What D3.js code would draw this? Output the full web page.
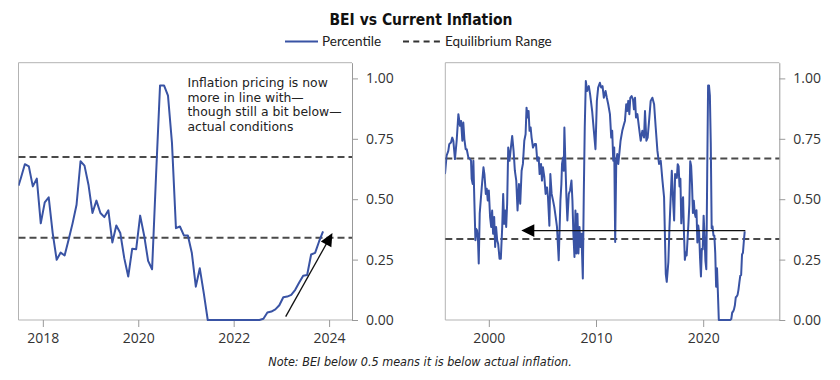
<!DOCTYPE html>
<html><head><meta charset="utf-8">
<script src="https://cdn.jsdelivr.net/npm/d3@7"></script>
<style>
body{margin:0;background:#fff;}
svg{display:block;}
</style></head><body>
<svg id="chart" width="840" height="380"></svg>
<script>
// ---------------- DATA ----------------
const titleText = "BEI vs Current Inflation";
const legendLabels = ["Percentile", "Equilibrium Range"];
const noteText = "Note: BEI below 0.5 means it is below actual inflation.";
const annotationLines = ["Inflation pricing is now", "more in line with\u2014", "though still a bit below\u2014", "actual conditions"];

// Monthly percentile, starting mid-2017 (left panel; also the tail of the right panel)
const leftStartYear = 2017.54;
const leftValues = [
  0.588,0.645,0.636,0.553,0.585,0.40,0.487,0.508,0.36,0.249,
  0.279,0.267,0.332,0.40,0.477,0.657,0.639,0.56,0.443,0.494,
  0.443,0.426,0.454,0.321,0.391,0.36,0.256,0.18,0.295,0.293,
  0.432,0.35,0.245,0.21,0.60,0.971,0.971,0.929,0.733,0.38,
  0.387,0.35,0.35,0.277,0.138,0.214,0.111,0,0,0,
  0,0,0,0,0,0,0,0,0,0,
  0,0.005,0.031,0.035,0.044,0.061,0.094,0.097,0.104,0.125,
  0.155,0.183,0.186,0.271,0.278,0.325,0.367
];
// value at the left edge of the short panel, where the line enters
const leftEdgePoint = [2017.49, 0.556];

// Longer history (right panel) before mid-2017: [year, percentile]
const rightEarlyPoints = [
  [1995.91,.604],[1996.06,.68],[1996.22,.70],[1996.31,.728],[1996.47,.735],[1996.59,.755],[1996.69,.742],[1996.84,.666],[1997.00,.742],[1997.16,.852],
  [1997.31,.804],[1997.41,.824],[1997.53,.742],[1997.62,.817],[1997.72,.749],[1997.84,.707],[1997.94,.707],[1998.09,.673],[1998.25,.666],[1998.34,.659],
  [1998.40,.584],[1998.50,.563],[1998.56,.659],[1998.65,.495],[1998.75,.33],[1998.81,.378],[1998.90,.371],[1998.99,.33],[1999.06,.234],[1999.15,.44],
  [1999.34,.549],[1999.50,.632],[1999.59,.604],[1999.72,.522],[1999.81,.543],[1999.90,.495],[2000.00,.536],[2000.12,.426],[2000.22,.385],[2000.31,.453],
  [2000.40,.357],[2000.50,.426],[2000.59,.302],[2000.68,.385],[2000.78,.33],[2000.87,.316],[2001.00,.254],[2001.12,.254],[2001.25,.385],[2001.34,.522],
  [2001.43,.398],[2001.53,.453],[2001.62,.385],[2001.71,.481],[2001.81,.714],[2001.93,.659],[2002.06,.714],[2002.18,.762],[2002.31,.70],[2002.43,.618],
  [2002.56,.577],[2002.68,.453],[2002.81,.563],[2002.93,.481],[2003.06,.618],[2003.18,.646],[2003.31,.742],[2003.43,.769],[2003.52,.879],[2003.62,.838],
  [2003.71,.865],[2003.80,.783],[2003.90,.797],[2003.99,.755],[2004.12,.714],[2004.27,.728],[2004.40,.728],[2004.52,.659],[2004.65,.673],[2004.74,.604],
  [2004.87,.646],[2004.96,.577],[2005.05,.632],[2005.18,.591],[2005.30,.522],[2005.43,.549],[2005.52,.508],[2005.65,.39],[2005.74,.604],[2005.86,.522],
  [2005.99,.495],[2006.11,.467],[2006.24,.426],[2006.36,.385],[2006.52,.247],
  [2006.68,.495],[2006.77,.563],[2006.83,.646],[2006.93,.673],[2006.99,.618],[2007.05,.797],[2007.14,.659],[2007.24,.508],[2007.33,.412],[2007.46,.522],
  [2007.58,.536],[2007.71,.577],[2007.80,.495],[2007.89,.357],[2007.99,.261],[2008.08,.453],[2008.17,.275],[2008.27,.44],[2008.36,.275],[2008.46,.385],
  [2008.55,.302],[2008.64,.357],[2008.77,.172],[2008.86,.522],[2008.95,.797],[2009.05,.989],[2009.17,.948],[2009.33,.968],[2009.45,.934],[2009.64,.865],
  [2009.80,.783],[2009.95,.707],[2010.08,.907],[2010.20,.962],[2010.36,.982],[2010.48,.962],[2010.61,.968],[2010.73,.92],[2010.89,.948],[2011.01,.92],
  [2011.14,.893],[2011.30,.852],[2011.42,.755],[2011.51,.783],[2011.61,.659],[2011.70,.714],[2011.79,.323],[2011.89,.659],[2011.98,.687],[2012.08,.646],
  [2012.20,.70],[2012.29,.742],[2012.45,.783],[2012.61,.81],[2012.70,.824],[2012.82,.893],[2012.92,.865],[2013.01,.907],[2013.11,.852],[2013.20,.92],
  [2013.32,.927],[2013.45,.913],[2013.54,.872],[2013.64,.92],[2013.73,.838],[2013.86,.852],[2014.01,.797],[2014.17,.742],[2014.32,.783],[2014.48,.755],
  [2014.57,.865],[2014.70,.742],[2014.82,.755],[2014.95,.824],[2015.10,.907],[2015.26,.92],[2015.42,.893],[2015.57,.797],[2015.73,.70],[2015.88,.646],
  [2016.04,.659],[2016.20,.577],[2016.35,.508],[2016.51,.19],[2016.60,.158],[2016.75,.24],[2016.85,.38],[2016.98,.52],[2017.07,.618],[2017.19,.495],
  [2017.29,.412],[2017.38,.604]
];

const leftRange = [0.34, 0.675];
const rightRange = [0.335, 0.668];
const yTickValues = [0, 0.25, 0.5, 0.75, 1.0];
const leftXTicks = [2018, 2020, 2022, 2024];
const rightXTicks = [2000, 2010, 2020];
const leftXDomain = [2017.49, 2024.48];
const rightXDomain = [1995.94, 2027.1];
const yDomain = [0, 1.065];
const leftArrow = {from: [2023.09, 0.014], to: [2024.07, 0.36]};
const rightArrow = {from: [2023.93, 0.37], to: [2003.03, 0.37]};

// ---------------- DRAW ----------------
const BLUE = "#3953a4";
const svg = d3.select("#chart");

const leftSeries = leftValues.map((v, i) => [leftStartYear + i / 12, v]);
const rightSeries = rightEarlyPoints.concat(leftSeries);

svg.append("text").attr("x", 421).attr("y", 25).attr("text-anchor", "middle")
  .style("font-family", "'Liberation Sans Narrow','DejaVu Sans Condensed',sans-serif")
  .style("font-weight", "bold").style("font-size", "15.5px").attr("fill", "#111")
  .text(titleText);

// legend
const lg = svg.append("g");
lg.append("line").attr("x1", 285).attr("x2", 318).attr("y1", 41.5).attr("y2", 41.5)
  .attr("stroke", BLUE).attr("stroke-width", 2);
lg.append("text").attr("x", 322).attr("y", 46).text(legendLabels[0]);
lg.append("line").attr("x1", 403).attr("x2", 440).attr("y1", 41.5).attr("y2", 41.5)
  .attr("stroke", "#333").attr("stroke-width", 2).attr("stroke-dasharray", "6,4.3");
lg.append("text").attr("x", 445).attr("y", 46).text(legendLabels[1]);
lg.selectAll("text").style("font-family", "Lato, sans-serif").style("font-size", "13.5px").attr("fill", "#222");

function panel(id, x0, x1, xDomain, xTicks, series, range) {
  const y0 = 62.7, y1 = 320;
  const x = d3.scaleLinear().domain(xDomain).range([x0, x1]);
  const y = d3.scaleLinear().domain(yDomain).range([y1, y0]);
  const g = svg.append("g");

  g.append("clipPath").attr("id", "clip" + id).append("rect")
    .attr("x", x0).attr("y", y0 - 2).attr("width", x1 - x0).attr("height", y1 - y0 + 4);

  // frame
  g.append("path").attr("d", `M${x0},${y1}V${y0}H${x1}M${x0},${y1}H${x1}`)
    .attr("fill", "none").attr("stroke", "#b3b3b3").attr("stroke-width", 1);

  // right axis
  const ya = g.append("g").attr("transform", `translate(${x1},0)`)
    .call(d3.axisRight(y).tickValues(yTickValues).tickFormat(d3.format(".2f")).tickSize(6).tickPadding(8).tickSizeOuter(0));
  ya.select(".domain").attr("stroke", "#999");
  ya.selectAll(".tick line").attr("stroke", "#999");
  ya.selectAll("text").style("font-family", "'Open Sans', sans-serif").style("font-size", "14px").attr("fill", "#333");

  // bottom axis
  const xa = g.append("g").attr("transform", `translate(0,${y1})`)
    .call(d3.axisBottom(x).tickValues(xTicks).tickFormat(d3.format("d")).tickSize(7).tickPadding(6.5));
  xa.select(".domain").remove();
  xa.selectAll(".tick line").attr("stroke", "#999");
  xa.selectAll("text").style("font-family", "'Open Sans', sans-serif").style("font-size", "14px").attr("fill", "#333");

  // equilibrium range
  g.selectAll(".band").data(range).enter().append("line")
    .attr("x1", x0).attr("x2", x1).attr("y1", d => y(d)).attr("y2", d => y(d))
    .attr("stroke", "#4a4a4a").attr("stroke-width", 2).attr("stroke-dasharray", "7,4");

  // series
  g.append("path").datum(series)
    .attr("clip-path", `url(#clip${id})`)
    .attr("d", d3.line().x(d => x(d[0])).y(d => y(d[1])))
    .attr("fill", "none").attr("stroke", BLUE).attr("stroke-width", 2).attr("stroke-linejoin", "round");

  return {x, y, g};
}

function arrow(p, a, len, hw) {
  const xs = p.x(a.from[0]), ys = p.y(a.from[1]);
  const xt = p.x(a.to[0]), yt = p.y(a.to[1]);
  const dx = xt - xs, dy = yt - ys, L = Math.hypot(dx, dy);
  const ux = dx / L, uy = dy / L;
  const bx = xt - ux * len, by = yt - uy * len;
  p.g.append("line").attr("x1", xs).attr("y1", ys).attr("x2", bx + ux * 2).attr("y2", by + uy * 2)
    .attr("stroke", "#111").attr("stroke-width", 1.3);
  p.g.append("path")
    .attr("d", `M${xt},${yt}L${bx - uy * hw},${by + ux * hw}L${bx + uy * hw},${by - ux * hw}Z`)
    .attr("fill", "#000");
}

const L = panel("L", 18.5, 352, leftXDomain, leftXTicks, [leftEdgePoint].concat(leftSeries), leftRange);
const R = panel("R", 445.3, 779.3, rightXDomain, rightXTicks, rightSeries, rightRange);

arrow(L, leftArrow, 13, 6);
arrow(R, rightArrow, 13, 6.3);

// annotation (one text element per line)
svg.selectAll(".ann").data(annotationLines).enter().append("text")
  .attr("class", "ann")
  .attr("x", 187.5).attr("y", (d, i) => 87 + i * 14.7)
  .style("font-family", "'DejaVu Sans', sans-serif").style("font-size", "12.4px").attr("fill", "#222")
  .text(d => d);

svg.append("text").attr("x", 420).attr("y", 366).attr("text-anchor", "middle")
  .style("font-family", "'Liberation Sans Narrow','DejaVu Sans Condensed',sans-serif")
  .style("font-style", "italic").style("font-size", "12.5px").attr("fill", "#222")
  .text(noteText);
</script>
</body></html>
